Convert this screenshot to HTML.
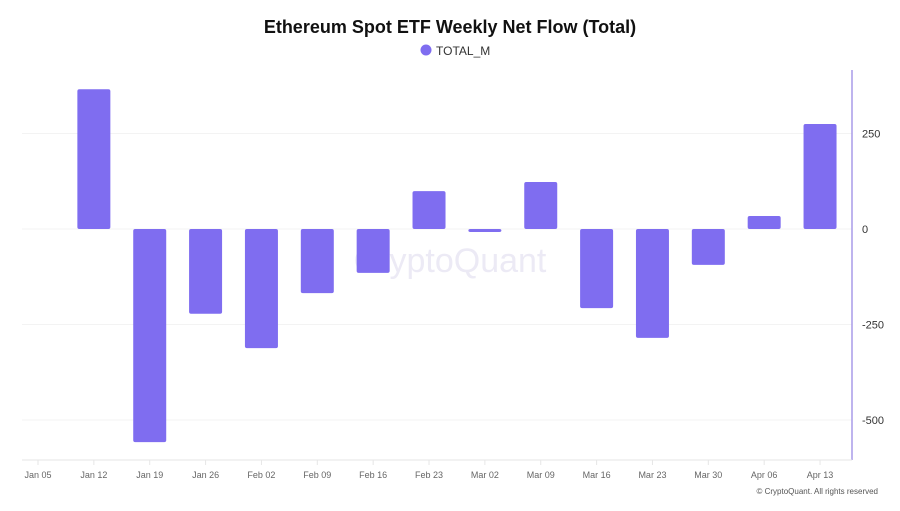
<!DOCTYPE html>
<html><head><meta charset="utf-8"><style>
body{margin:0;background:#fff;width:900px;height:506px;overflow:hidden;font-family:"Liberation Sans",sans-serif}
</style></head><body>
<svg id="chart" width="900" height="506" xmlns="http://www.w3.org/2000/svg">
<text x="450" y="33" text-anchor="middle" font-size="18" font-weight="bold" fill="#111">Ethereum Spot ETF Weekly Net Flow (Total)</text>
<g>
<circle cx="426" cy="50" r="5.5" fill="#7f6df0"/>
<text x="436" y="55" font-size="12" fill="#333">TOTAL_M</text>
</g>
<text x="450" y="272" text-anchor="middle" font-size="34" fill="#eceaf5">CryptoQuant</text>
<g id="grid"></g><g id="bars"></g><g id="xaxis"></g><g id="yaxis"></g>
<line x1="852" y1="70" x2="852" y2="460" stroke="#a99ce8" stroke-width="1.5"/>
<line x1="22" y1="460" x2="852" y2="460" stroke="#e6e6e6"/>
<text x="878" y="494" text-anchor="end" font-size="8" fill="#555">© CryptoQuant. All rights reserved</text>
</svg>
<script>
const categories=["Jan 05","Jan 12","Jan 19","Jan 26","Feb 02","Feb 09","Feb 16","Feb 23","Mar 02","Mar 09","Mar 16","Mar 23","Mar 30","Apr 06","Apr 13"];
const values=[null,366,-558,-222,-312,-168,-115,99,-8,123,-207,-285,-94,34,275];
const yTicks=[250,0,-250,-500];
const NS="http://www.w3.org/2000/svg";
function x(i){return 38+i*55.86;}
function y(v){return 229-v*95.5/250;}
function mk(t,a,p){const e=document.createElementNS(NS,t);for(const k in a)e.setAttribute(k,a[k]);p.appendChild(e);return e;}
const grid=document.getElementById('grid'),bars=document.getElementById('bars'),xa=document.getElementById('xaxis'),ya=document.getElementById('yaxis');
yTicks.forEach(t=>{
 const g=mk('line',{x1:22,x2:852,y1:y(t),y2:y(t),stroke:'#f3f3f3'},grid);
 
 
 const l=mk('text',{x:862,y:y(t)+4,'font-size':11,fill:'#333'},ya);
 l.textContent=t;
 
 
});
categories.forEach((c,i)=>{
 const tk=mk('line',{x1:x(i),x2:x(i),y1:460,y2:465,stroke:'#e6e6e6'},xa);
 
 
 const l=mk('text',{x:x(i),y:478,'text-anchor':'middle','font-size':9,fill:'#666'},xa);
 l.textContent=c;
 
 
 const v=values[i];
 if(v===null)return;
 const y0=y(0),y1=y(v);
 const r=mk('rect',{x:x(i)-16.5,y:Math.min(y0,y1),width:33,height:Math.max(1.5,Math.abs(y1-y0)),rx:2,fill:'#7f6df0'},bars);
 
 
});
</script>
</body></html>
